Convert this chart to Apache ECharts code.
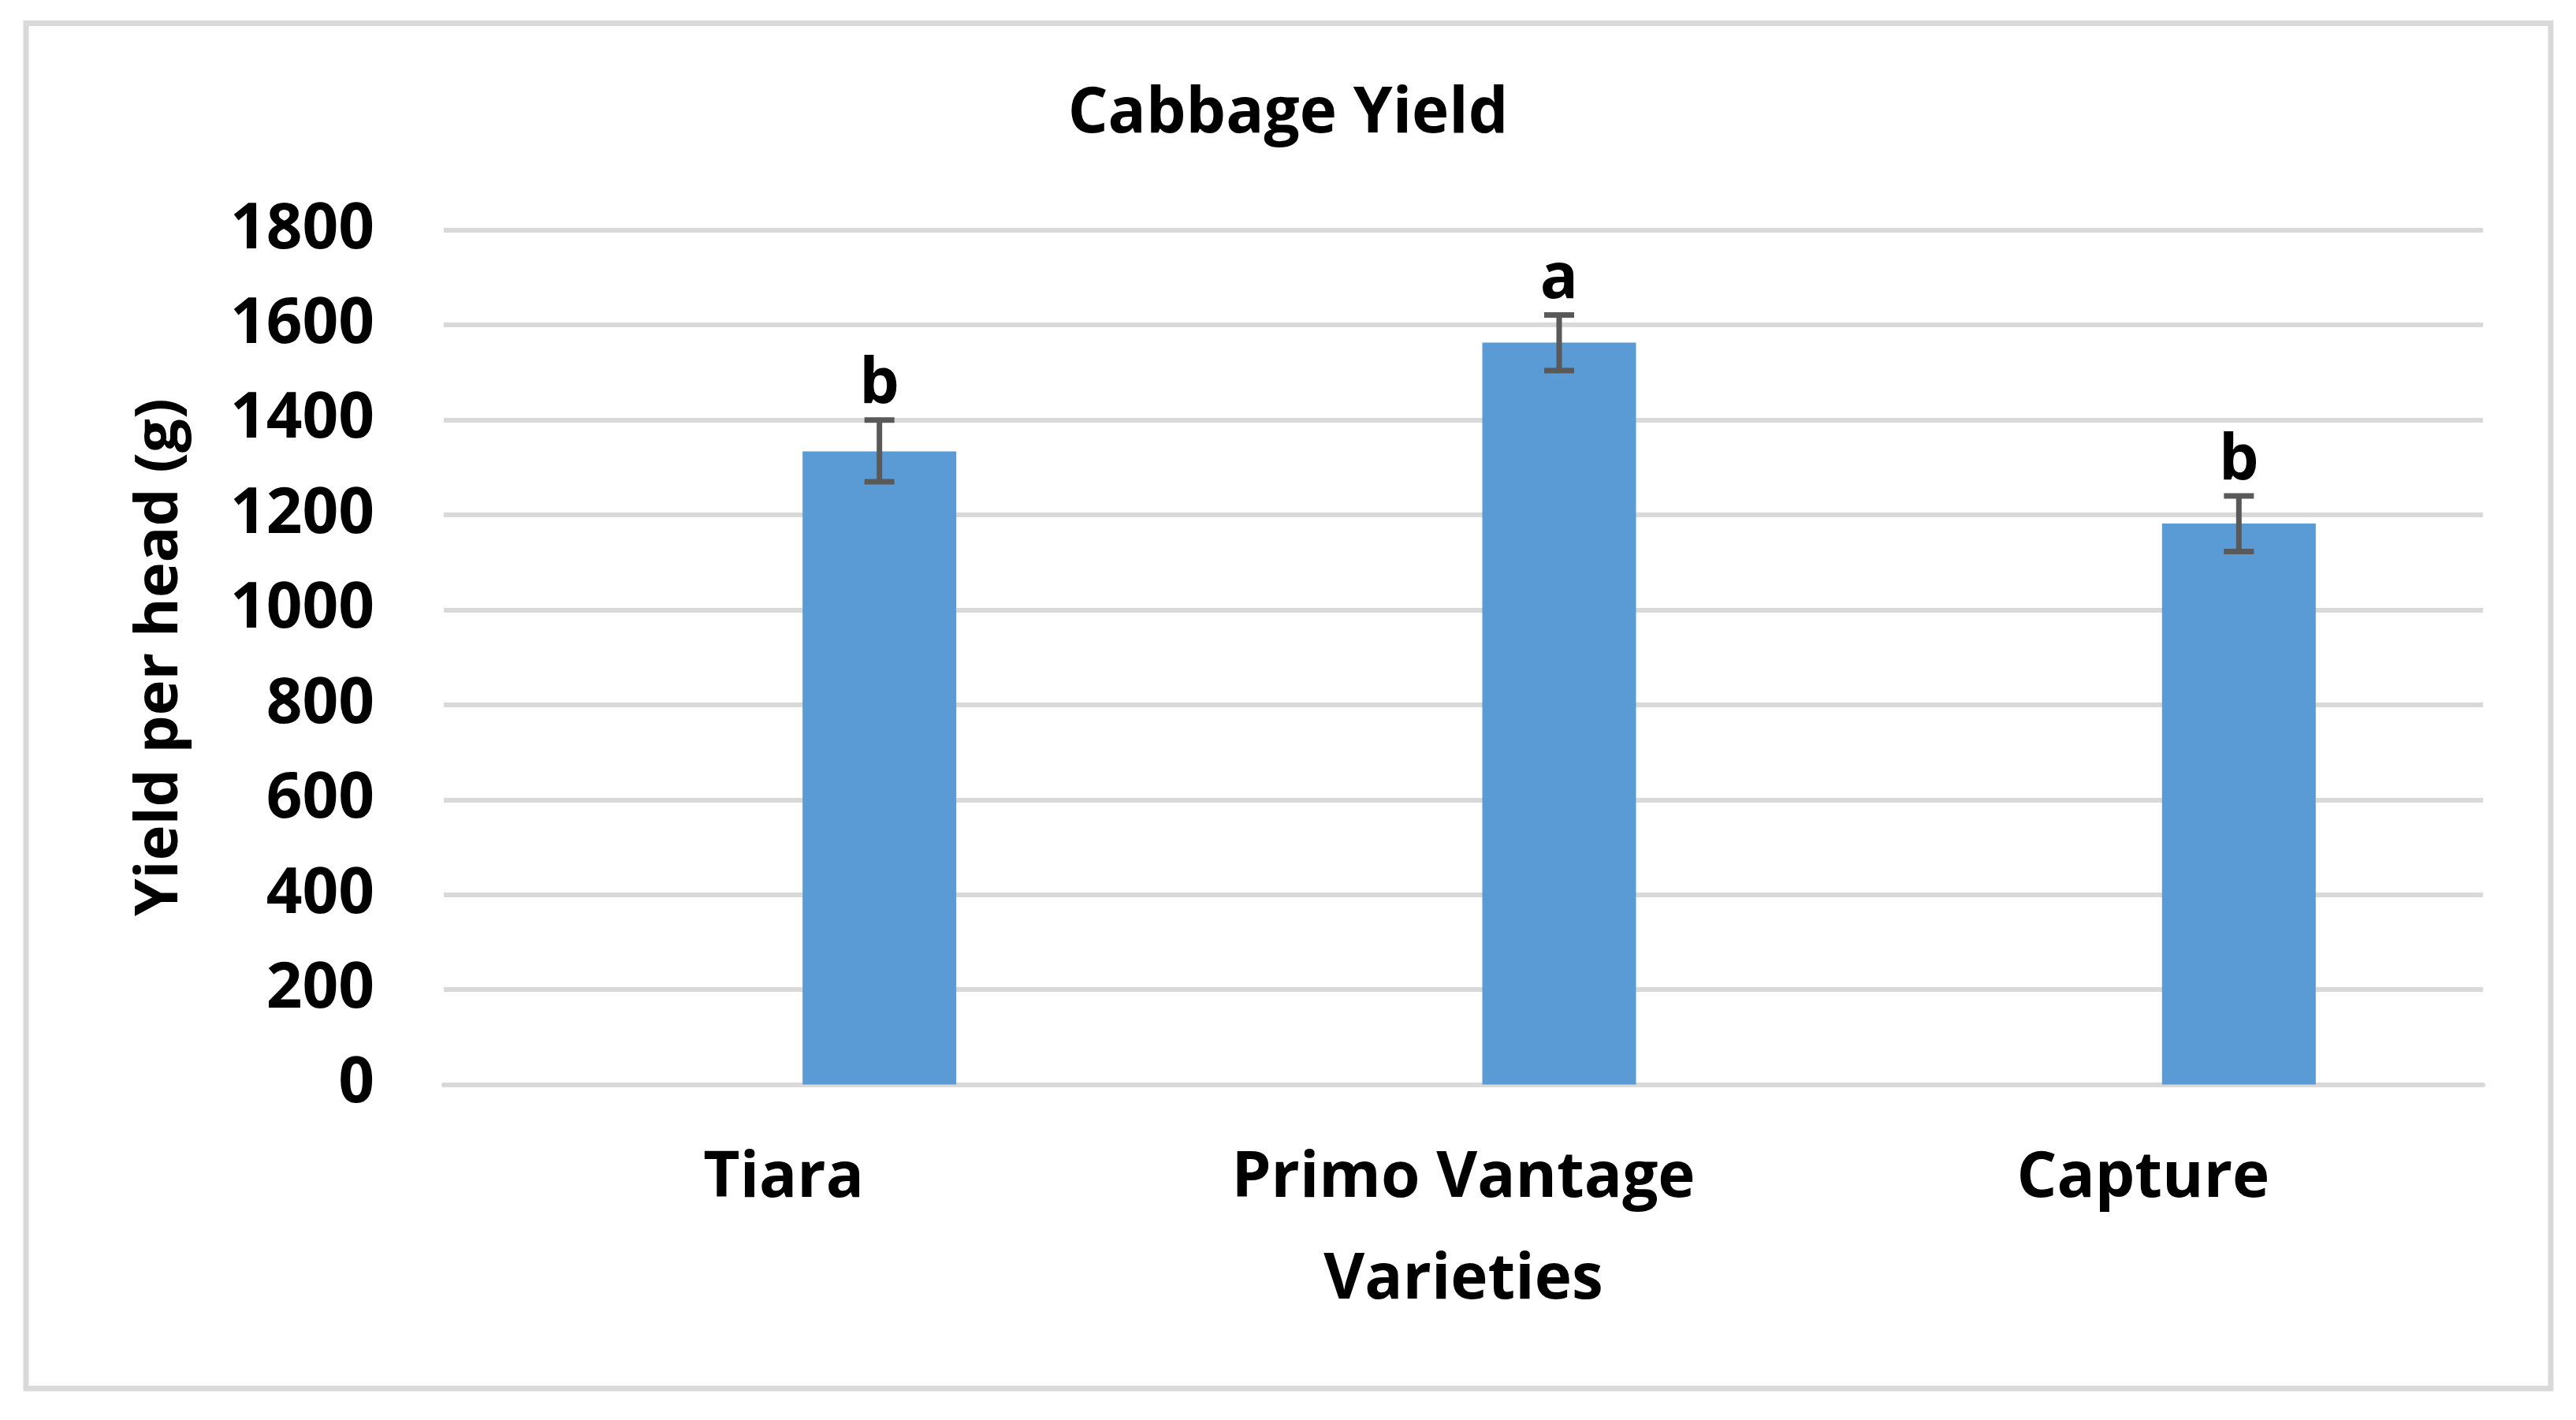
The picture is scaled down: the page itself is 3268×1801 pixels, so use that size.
<!DOCTYPE html>
<html>
<head>
<meta charset="utf-8">
<script src="https://cdn.jsdelivr.net/npm/echarts@6/dist/echarts.min.js"></script>
<style>
html,body{margin:0;padding:0;background:#fff;}
#chart{width:3268px;height:1801px;}
</style>
</head>
<body>
<div id="chart"></div>
<script>
// ---- data ----
var categories = ['Tiara', 'Primo Vantage', 'Capture'];
var yieldValues = [1334, 1563, 1182];
var errLow = [1270, 1504, 1123];
var errHigh = [1400, 1621, 1240];
var letters = ['b', 'a', 'b'];
var yTicks = [0, 200, 400, 600, 800, 1000, 1200, 1400, 1600, 1800];

// ---- style ----
var FONT = '"Open Sans", "Noto Sans", sans-serif';
var BAR_W = 195;
var BAR_GAP_PX = 48;
var BAR_COLOR = '#5b9bd5';
var ERR_COLOR = '#595959';
var GRID_COLOR = '#d9d9d9';

var chart = echarts.init(document.getElementById('chart'), null, {renderer: 'canvas'});

var errData = categories.map(function (c, i) { return [i, errLow[i], errHigh[i], letters[i]]; });

var option = {
  backgroundColor: '#ffffff',
  animation: false,
  title: {
    text: 'Cabbage Yield',
    left: 'center',
    top: 100,
    textStyle: {fontFamily: FONT, fontWeight: 'bold', fontSize: 80, color: '#000'}
  },
  graphic: [{
    type: 'rect',
    shape: {x: 33, y: 29.5, width: 3203, height: 1731.5},
    style: {fill: 'none', stroke: GRID_COLOR, lineWidth: 7},
    silent: true
  }],
  grid: {left: 563, right: 118, top: 291.8, bottom: 425.4, containLabel: false},
  xAxis: {
    type: 'category',
    data: categories,
    axisLine: {show: true, lineStyle: {color: GRID_COLOR, width: 6}},
    axisTick: {show: false},
    axisLabel: {fontFamily: FONT, fontWeight: 'bold', fontSize: 80, color: '#000', margin: 80},
    name: 'Varieties',
    nameLocation: 'middle',
    nameGap: 209,
    nameTextStyle: {fontFamily: FONT, fontWeight: 'bold', fontSize: 80, color: '#000'}
  },
  yAxis: {
    type: 'value',
    min: yTicks[0],
    max: yTicks[yTicks.length - 1],
    interval: yTicks[1] - yTicks[0],
    axisLine: {show: false},
    axisTick: {show: false},
    splitLine: {show: true, lineStyle: {color: GRID_COLOR, width: 6}},
    axisLabel: {
      fontFamily: FONT, fontWeight: 'bold', fontSize: 80, color: '#000', margin: 88,
      formatter: function (v) { return String(v); }
    },
    name: 'Yield per head (g)',
    nameLocation: 'middle',
    nameGap: 322,
    nameTextStyle: {fontFamily: FONT, fontWeight: 'bold', fontSize: 76, color: '#000'}
  },
  series: [
    {
      type: 'bar',
      name: 'blank',
      data: categories.map(function () { return '-'; }),
      barWidth: BAR_W,
      barGap: (BAR_GAP_PX / BAR_W * 100) + '%'
    },
    {
      type: 'bar',
      name: 'Yield',
      data: yieldValues,
      barWidth: BAR_W,
      barGap: (BAR_GAP_PX / BAR_W * 100) + '%',
      itemStyle: {color: BAR_COLOR}
    },
    {
      type: 'custom',
      name: 'err',
      data: errData,
      z: 10,
      renderItem: function (params, api) {
        var idx = api.value(0);
        var lo = api.coord([idx, api.value(1)]);
        var hi = api.coord([idx, api.value(2)]);
        var x = lo[0] + (BAR_W + BAR_GAP_PX) / 2;
        var cap = 19;
        var ls = {stroke: ERR_COLOR, lineWidth: 7};
        return {
          type: 'group',
          children: [
            {type: 'line', shape: {x1: x, y1: lo[1], x2: x, y2: hi[1]}, style: ls},
            {type: 'line', shape: {x1: x - cap, y1: lo[1], x2: x + cap, y2: lo[1]}, style: ls},
            {type: 'line', shape: {x1: x - cap, y1: hi[1], x2: x + cap, y2: hi[1]}, style: ls},
            {type: 'text', style: {
              text: api.value(3), x: x, y: hi[1] - 4,
              textAlign: 'center', textVerticalAlign: 'bottom',
              font: 'bold 80px ' + FONT, fill: '#000'
            }}
          ]
        };
      }
    }
  ]
};
chart.setOption(option);
</script>
</body>
</html>
